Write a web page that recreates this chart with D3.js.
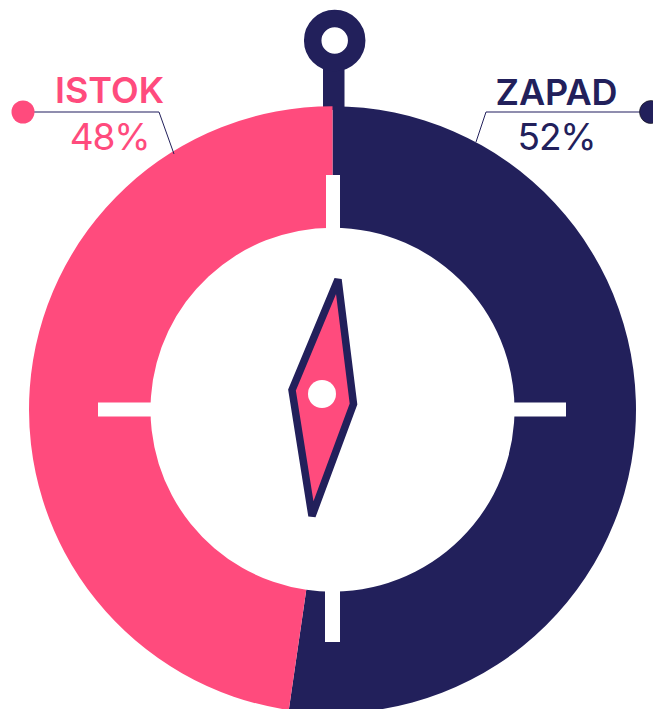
<!DOCTYPE html>
<html><head><meta charset="utf-8">
<script src="https://cdn.jsdelivr.net/npm/d3@7"></script>
<style>html,body{margin:0;padding:0;background:#fff;overflow:hidden}svg{display:block}text{font-family:Inter,"Open Sans",sans-serif}</style>
</head><body><svg id="c" width="653" height="709"></svg>
<script>
const categories = ["ZAPAD", "ISTOK"];
const shareValues = [52.3, 47.7];
const shareLabels = ["52%", "48%"];
const seriesColors = ["#22205B", "#FF4B7D"];

const W = 653, H = 709, cx = 332.5, cy = 409.7, rOuter = 303.5, rInner = 182;
const navy = seriesColors[0], pink = seriesColors[1];
const svg = d3.select("#c");

// hook above the dial
svg.append("rect").attr("x", 323).attr("y", 60).attr("width", 21.5).attr("height", 50).attr("fill", navy);
svg.append("circle").attr("cx", 334.7).attr("cy", 40.5).attr("r", 22).attr("fill", "#fff").attr("stroke", navy).attr("stroke-width", 17.5);

// ring
const pie = d3.pie().sort(null).value(d => d);
const arc = d3.arc().innerRadius(rInner).outerRadius(rOuter);
svg.append("g").attr("transform", `translate(${cx},${cy})`)
  .selectAll("path").data(pie(shareValues)).join("path")
  .attr("d", arc).attr("fill", (d, i) => seriesColors[i]);

// white compass ticks
const ticks = [[326, 175, 14, 56], [325, 590, 15, 52], [98, 402.5, 54, 14], [513, 402.5, 53, 14]];
svg.append("g").selectAll("rect").data(ticks).join("rect")
  .attr("x", d => d[0]).attr("y", d => d[1]).attr("width", d => d[2]).attr("height", d => d[3]).attr("fill", "#fff");

// needle
svg.append("polygon").attr("points", "338,279.5 353.5,404 312,516 292,390")
  .attr("fill", pink).attr("stroke", navy).attr("stroke-width", 7.5).attr("stroke-linejoin", "miter").attr("stroke-miterlimit", 2);
svg.append("circle").attr("cx", 322).attr("cy", 394).attr("r", 14).attr("fill", "#fff");

// leader lines
svg.append("path").attr("d", "M23,112H159").attr("stroke", "#8F8DAE").attr("stroke-width", 2).attr("fill", "none");
svg.append("path").attr("d", "M159,112L174,154").attr("stroke", navy).attr("stroke-width", 1).attr("fill", "none");
svg.append("path").attr("d", "M486,112H645").attr("stroke", "#8F8DAE").attr("stroke-width", 2).attr("fill", "none");
svg.append("path").attr("d", "M486,112L476,142").attr("stroke", navy).attr("stroke-width", 1).attr("fill", "none");
svg.append("circle").attr("cx", 23).attr("cy", 112).attr("r", 11.5).attr("fill", pink);
svg.append("circle").attr("cx", 651).attr("cy", 112).attr("r", 11.5).attr("fill", navy).attr("stroke", "#111").attr("stroke-width", 0.6);

// labels
const labelPos = [{x: 556.5, y1: 105, y2: 150}, {x: 109.5, y1: 102.5, y2: 150}];
const g = svg.append("g").attr("text-anchor", "middle");
categories.forEach((c, i) => {
  g.append("text").attr("x", labelPos[i].x).attr("y", labelPos[i].y1).attr("fill", seriesColors[i])
    .attr("font-size", 36).attr("font-weight", 600).text(c);
  g.append("text").attr("x", labelPos[i].x).attr("y", labelPos[i].y2).attr("fill", seriesColors[i])
    .attr("font-size", 37).attr("font-weight", 400).attr("letter-spacing", -1.2).text(shareLabels[i]);
});
</script></body></html>
